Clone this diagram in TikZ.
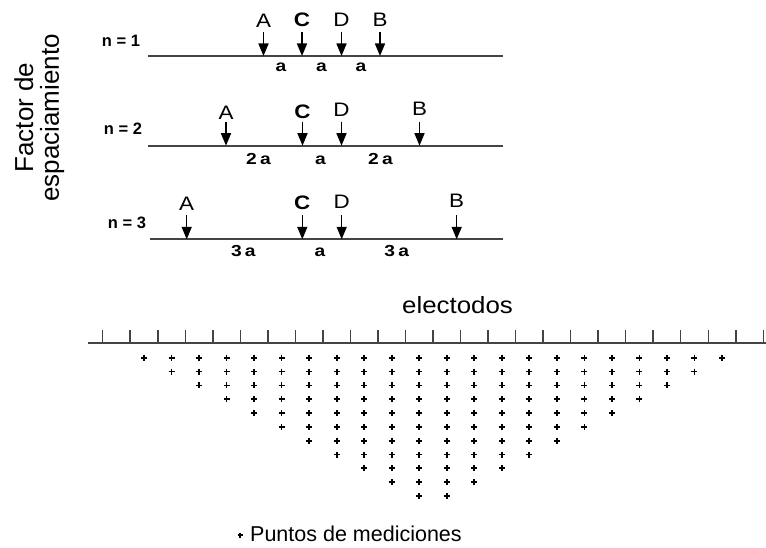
\documentclass[tikz,border=0pt]{standalone}
\usepackage{fontspec}
\setmainfont{Liberation Sans}
\usetikzlibrary{arrows.meta}
\definecolor{linegray}{HTML}{444444}
\begin{document}
\begin{tikzpicture}[x=1pt,y=-1pt,
  baseln/.style={draw=linegray,line width=1.7pt},
  elecarrow/.style={draw=black,line width=1.5pt,-{Triangle[length=12.5pt,width=10pt]}},
  lab/.style={font=\fontsize{19.5}{21}\selectfont,anchor=base,inner sep=0pt},
  nlab/.style={font=\bfseries\fontsize{16.5}{18}\selectfont,anchor=base,inner sep=0pt},
  alab/.style={font=\bfseries\fontsize{16}{18}\selectfont,anchor=base,inner sep=0pt},
  tickmark/.style={draw=linegray,line width=1.5pt},
  plusmark/.style={draw=black,line width=1.7pt},
  bigtext/.style={font=\fontsize{26}{30}\selectfont,inner sep=0pt}]
\useasboundingbox (0,0) rectangle (766,548);

% ---- axis label
\node[bigtext,rotate=90,anchor=base] (fac) at (33,117.5) {Factor de};
\node[bigtext,rotate=90,anchor=base] (esp) at (58.8,118) {espaciamiento};

% ---- n = 1
\node[nlab] (n1) at (121,46.7) {n = 1};
\coordinate (l1w) at (148.3,56);
\coordinate (l1e) at (503,56);
\draw[baseln] (l1w) -- (l1e);
\foreach \nm/\txt/\x/\yb in {A/A/263.5/27.3, C/\textbf{C}/302/27, D/D/341.5/26.7, B/B/380/26.7}{
  \node[lab] (t1\nm) at (\x,\yb) {\scalebox{1.15}[1]{\txt}};
  \coordinate (s1\nm) at (\x,32);
  \coordinate (p1\nm) at (\x,56);
  \draw[elecarrow] (s1\nm) -- (p1\nm);
}
\node[alab] (a11) at (281,72) {\scalebox{1.2}[1]{a}};
\node[alab] (a12) at (321.5,72) {\scalebox{1.2}[1]{a}};
\node[alab] (a13) at (361,72) {\scalebox{1.2}[1]{a}};

% ---- n = 2
\node[nlab] (n2) at (123,135) {n = 2};
\coordinate (l2w) at (148.3,145.7);
\coordinate (l2e) at (503,145.7);
\draw[baseln] (l2w) -- (l2e);
\foreach \nm/\txt/\x/\yb in {A/A/226/119.3, C/\textbf{C}/302.5/118.3, D/D/341.5/116.5, B/B/419.5/115.5}{
  \node[lab] (t2\nm) at (\x,\yb) {\scalebox{1.15}[1]{\txt}};
  \coordinate (s2\nm) at (\x,121.7);
  \coordinate (p2\nm) at (\x,145.7);
  \draw[elecarrow] (s2\nm) -- (p2\nm);
}
\node[alab] (a21) at (258.5,165) {\scalebox{1.2}[1]{2\,a}};
\node[alab] (a22) at (320.5,165) {\scalebox{1.2}[1]{a}};
\node[alab] (a23) at (380.5,165) {\scalebox{1.2}[1]{2\,a}};

% ---- n = 3
\node[nlab] (n3) at (127,228.8) {n = 3};
\coordinate (l3w) at (150,239.3);
\coordinate (l3e) at (503,239.3);
\draw[baseln] (l3w) -- (l3e);
\foreach \nm/\txt/\x/\yb in {A/A/186.7/210.7, C/\textbf{C}/302.3/210, D/D/341.7/208.3, B/B/456.7/207.3}{
  \node[lab] (t3\nm) at (\x,\yb) {\scalebox{1.15}[1]{\txt}};
  \coordinate (s3\nm) at (\x,215);
  \coordinate (p3\nm) at (\x,239.3);
  \draw[elecarrow] (s3\nm) -- (p3\nm);
}
\node[alab] (a31) at (243.3,256.7) {\scalebox{1.2}[1]{3\,a}};
\node[alab] (a32) at (320,256.7) {\scalebox{1.2}[1]{a}};
\node[alab] (a33) at (396.7,256.7) {\scalebox{1.2}[1]{3\,a}};

% ---- electrodes
\node[font=\fontsize{23.5}{26}\selectfont,anchor=base,inner sep=0pt] (elec) at (457.5,313.3) {\scalebox{1.1}[1]{electodos}};
\coordinate (ew) at (88,343.3);
\coordinate (ee) at (766,343.3);
\draw[baseln] (ew) -- (ee);
\foreach \i in {0,...,24}{
  \draw[tickmark] ({102.7+27.525*\i},330) -- ({102.7+27.525*\i},343.3);
}
% ---- measurement points
\foreach \r in {1,...,11}{
  \pgfmathtruncatemacro\lastcol{23-\r}
  \foreach \i in {\r,...,\lastcol}{
    \draw[plusmark] ({116.45+27.525*\i},{357.7+13.83*(\r-1)}) +(-3,0) -- +(3,0) +(0,-3) -- +(0,3);
  }
}

% ---- legend
\draw[plusmark,line width=1.3pt] (240,535) +(-2.5,0) -- +(2.5,0) +(0,-2.5) -- +(0,2.5);
\node[font=\fontsize{21.5}{24}\selectfont,anchor=base west,inner sep=0pt] (leg) at (250,541.7) {Puntos de mediciones};
\end{tikzpicture}
\end{document}
